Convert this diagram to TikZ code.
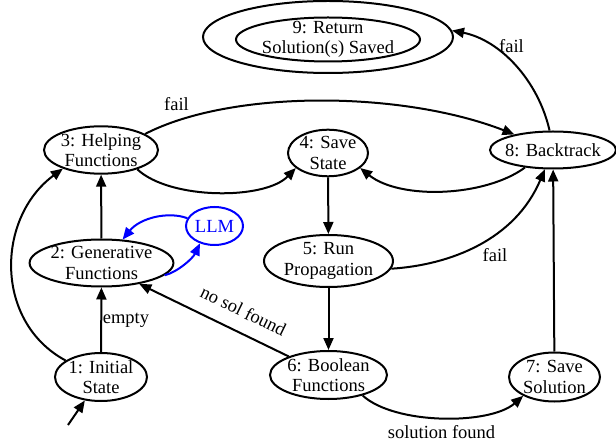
\documentclass[tikz,border=0pt]{standalone}
\usepackage{fontspec}
\setmainfont{Liberation Serif}
\usetikzlibrary{shapes.geometric,arrows.meta}
\begin{document}
\begin{tikzpicture}[x=1bp,y=-1bp,
  st/.style={ellipse,draw,line width=2bp,inner sep=0pt,align=center,
    font=\fontsize{18.5bp}{20.5bp}\selectfont},
  lbl/.style={font=\fontsize{18.5bp}{20.5bp}\selectfont,inner sep=0pt},
  edge/.style={draw,line width=2bp,-{Triangle[length=12bp,width=10bp]}},
]
\useasboundingbox (0,0) rectangle (616,448);
% nodes
\node[st,minimum width=92bp,minimum height=48bp] (n1) at (101,377) {1: Initial\\State};
\node[st,minimum width=143bp,minimum height=47bp] (n2) at (101.5,263) {2: Generative\\Functions};
\node[st,minimum width=114bp,minimum height=47bp] (n3) at (101,150) {3: Helping\\Functions};
\node[st,minimum width=80bp,minimum height=43bp] (n4) at (328,153) {4: Save\\State};
\node[st,minimum width=129bp,minimum height=52bp] (n5) at (328.5,261) {5: Run\\Propagation};
\node[st,minimum width=117bp,minimum height=48bp] (n6) at (328.5,375) {6: Boolean\\Functions};
\node[st,minimum width=91bp,minimum height=49bp] (n7) at (554.5,377) {7: Save\\Solution};
\node[st,minimum width=126bp,minimum height=37bp,inner xsep=-8bp] (n8) at (553,150) {8: Backtrack};
\node[st,blue,minimum width=57bp,minimum height=38bp] (llm) at (214.5,226) {LLM};
\node[st,minimum width=250bp,minimum height=72bp] (n9) at (328,37) {};
\node[st,minimum width=184bp,minimum height=44bp,inner sep=-3bp] (n9in) at (328,39.5) {9: Return\\Solution(s) Saved};
\coordinate (s) at (68,425);
% edges
\draw[edge] (s) -- (n1);
\draw[edge] (n1) -- (n2);
\draw[edge] (n1.155) .. controls (-6,322) and (-4,218) .. (n3.206);
\draw[edge] (n2) -- (n3);
\draw[edge,blue] (llm.164) .. controls (168,211) and (140,218) .. (n2.48);
\draw[edge,blue] (n2.-11) .. controls (178,272) and (193,258) .. (llm.230);
\draw[edge] (n3.-28) .. controls (170,200) and (265,200) .. (n4.205);
\draw[edge] (n3.20) .. controls (230,90) and (400,90) .. (n8.158);
\draw[edge] (n4) -- (n5);
\draw[edge] (n8.212) .. controls (485,197) and (400,200) .. (n4.-25);
\draw[edge] (n5.-7) .. controls (450,265) and (515,240) .. (n8.247);
\draw[edge] (n5) -- (n6);
\draw[edge] (n6.155) -- (n2.-29);
\draw[edge] (n6.-31) .. controls (395,425) and (490,425) .. (n7.211);
\draw[edge] (n7) -- (n8);
\draw[edge] (n8.100) .. controls (538,80) and (500,40) .. (n9.3);
% labels
\node[lbl,anchor=base] (lempty) at (126,323) {empty};
\node[lbl,anchor=base] (lfail1) at (176.5,110.7) {fail};
\node[lbl,anchor=base] (lfail2) at (495,261.7) {fail};
\node[lbl,anchor=base] (lfail3) at (511.5,52.3) {fail};
\node[lbl,anchor=base] (lsol) at (441.5,438) {solution found};
\node[lbl,rotate=-26] (lnosol) at (243.5,311) {no sol found};
\end{tikzpicture}
\end{document}
